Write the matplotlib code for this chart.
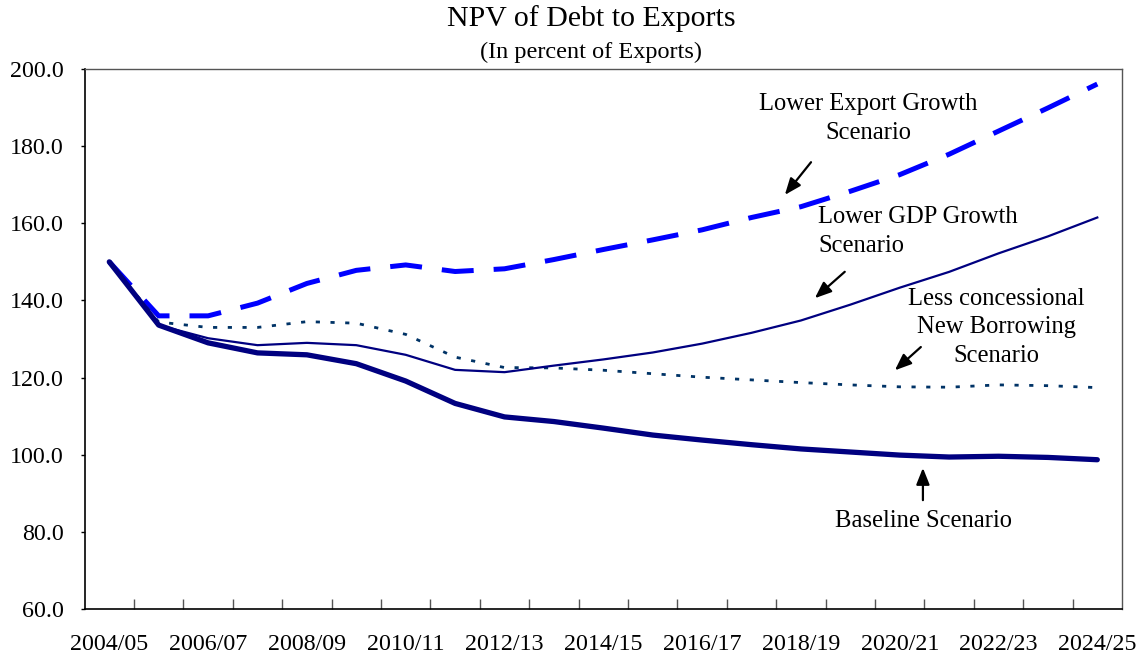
import matplotlib
matplotlib.use("Agg")
import matplotlib.pyplot as plt
import numpy as np

plt.rcParams['font.family'] = ['Liberation Serif', 'DejaVu Serif']

years = ["2004/05", "2005/06", "2006/07", "2007/08", "2008/09", "2009/10", "2010/11",
         "2011/12", "2012/13", "2013/14", "2014/15", "2015/16", "2016/17", "2017/18",
         "2018/19", "2019/20", "2020/21", "2021/22", "2022/23", "2023/24", "2024/25"]

baseline = [150.0, 133.6, 129.0, 126.4, 125.9, 123.6, 119.1, 113.3, 109.8, 108.6, 106.9,
            105.1, 103.8, 102.6, 101.5, 100.7, 99.9, 99.4, 99.6, 99.3, 98.7]
lower_gdp = [150.0, 133.6, 130.2, 128.4, 129.0, 128.4, 125.9, 122.0, 121.4, 123.1, 124.7,
             126.5, 128.8, 131.6, 134.8, 138.9, 143.3, 147.4, 152.2, 156.6, 161.5]
less_conc = [150.0, 134.4, 133.0, 133.0, 134.5, 134.1, 131.2, 125.3, 122.6, 122.5, 121.9,
             121.0, 120.1, 119.4, 118.7, 118.1, 117.6, 117.5, 118.1, 117.9, 117.4]
lower_exp = [150.0, 136.0, 136.0, 139.3, 144.4, 147.8, 149.2, 147.5, 148.2, 150.6, 153.2,
             155.7, 158.3, 161.5, 164.3, 168.3, 172.6, 177.9, 183.9, 189.9, 196.1]

fig = plt.figure(figsize=(11.48, 6.61), dpi=100)
ax = fig.add_axes([84.6/1148, 1 - 609/661, (1122 - 84.6)/1148, (609 - 69)/661])

x = np.arange(len(years))
ax.plot(x, lower_exp, color='#0000FF', lw=3.6, linestyle=(0, (6.4, 4.0)), zorder=3)
ax.plot(x, less_conc, color='#003366', lw=2.0, linestyle=(0, (1.5, 3.8)), zorder=3)
ax.plot(x, lower_gdp, color='#000080', lw=1.6, zorder=4)
ax.plot(x, baseline, color='#000080', lw=3.8, zorder=5, solid_capstyle='round')

ax.set_xlim(-0.5, len(years) - 0.5)
ax.set_ylim(60, 200)
ax.set_yticks(np.arange(60, 201, 20))
ax.set_yticklabels([f"{v:.1f}" for v in np.arange(60, 201, 20)], fontsize=17.3)
ax.tick_params(axis='y', direction='out', length=3, width=1, pad=12)

ax.set_xticks(np.arange(0.5, len(years) - 1, 1.0))
ax.set_xticklabels([])
ax.tick_params(axis='x', which='major', direction='in', length=7, width=1, color='#555555')
ax.set_xticks(x[::2], minor=True)
ax.set_xticklabels(years[::2], minor=True, fontsize=17.3)
ax.tick_params(axis='x', which='minor', length=0, pad=18)

for s in ['left', 'bottom']:
    ax.spines[s].set_color('black')
    ax.spines[s].set_linewidth(1.2)
for s in ['top', 'right']:
    ax.spines[s].set_color('#555555')
    ax.spines[s].set_linewidth(1.0)

fig.text(591/1148, 1 - 19/661, "NPV of Debt to Exports", ha='center', va='center', fontsize=21.5)
fig.text(591/1148, 1 - 52/661, "(In percent of Exports)", ha='center', va='center', fontsize=17.5)

afs = 17.7
ls = 1.38
arrowprops = dict(arrowstyle='-|>,head_length=1.0,head_width=0.4', color='black', lw=1.6)
ax.text(15.36, 187.2, "Lower Export Growth\nScenario", ha='center', va='center', fontsize=afs,
        linespacing=ls)
ax.annotate("", xy=(13.64, 166.8), xytext=(14.24, 176.4), arrowprops=arrowprops)

ax.text(14.35, 157.9, "Lower GDP Growth\nScenario", ha='left', va='center', fontsize=afs,
        linespacing=ls)
ax.annotate("", xy=(14.24, 140.1), xytext=(14.93, 147.9), arrowprops=arrowprops)

ax.text(17.95, 133.1, "Less concessional\nNew Borrowing\nScenario", ha='center', va='center',
        fontsize=afs, linespacing=ls)
ax.annotate("", xy=(15.86, 121.4), xytext=(16.47, 128.4), arrowprops=arrowprops)

ax.text(16.49, 82.8, "Baseline Scenario", ha='center', va='center', fontsize=afs)
ax.annotate("", xy=(16.47, 97.3), xytext=(16.47, 87.5), arrowprops=arrowprops)

fig.savefig("out.png", dpi=100)
